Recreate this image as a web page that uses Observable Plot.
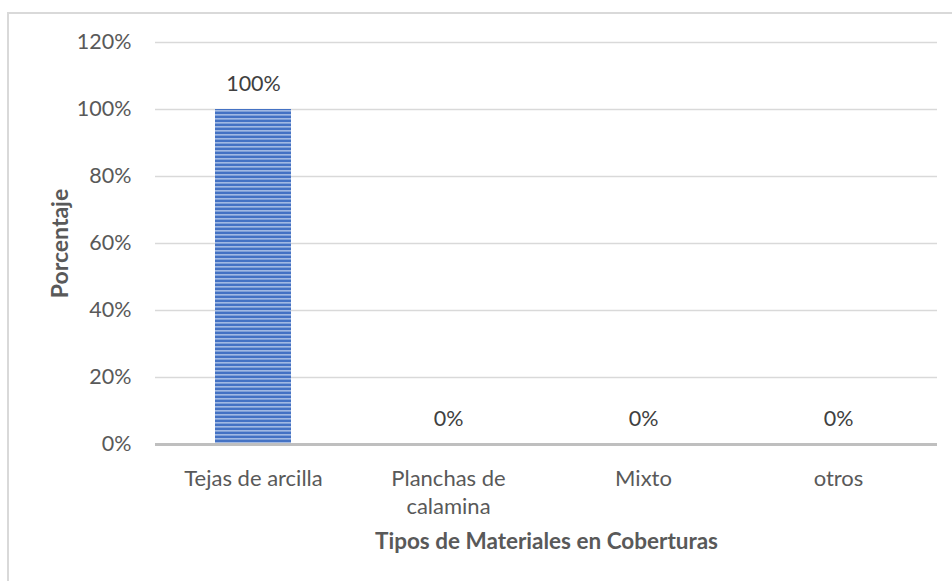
<!DOCTYPE html>
<html>
<head>
<meta charset="utf-8">
<script src="https://cdn.jsdelivr.net/npm/d3@7"></script>
<script src="https://cdn.jsdelivr.net/npm/@observablehq/plot@0.6"></script>
<style>
  html, body { margin: 0; padding: 0; background: #fff; }
  #wrap { position: relative; width: 952px; height: 581px; overflow: hidden; }
  #border { position: absolute; left: 7px; top: 12px; width: 1000px; height: 1000px;
            border-left: 2px solid #d9d9d9; border-top: 2px solid #d9d9d9; box-sizing: border-box; }
  #chart { position: absolute; left: 0; top: 0; }
</style>
</head>
<body>
<div id="wrap"><div id="border"></div><div id="chart"></div></div>
<script>
const categories = ["Tejas de arcilla", "Planchas de calamina", "Mixto", "otros"];
const values = [1.00, 0, 0, 0];
const yTicks = [0, 0.2, 0.4, 0.6, 0.8, 1.0, 1.2];
const xTitle = "Tipos de Materiales en Coberturas";
const yTitle = "Porcentaje";

const data = categories.map((c, i) => ({category: c, value: values[i]}));
const pct = d3.format(".0%");
const font = "Lato, 'Open Sans', sans-serif";
const textColor = "#595959";

const chart = Plot.plot({
  width: 952,
  height: 581,
  marginLeft: 155,
  marginRight: 15,
  marginTop: 42,
  marginBottom: 137,
  style: {fontFamily: font, fontSize: "21px", color: textColor, background: "transparent"},
  x: {domain: categories, paddingInner: 0.61, paddingOuter: 0.305},
  y: {domain: [0, 1.2]},
  marks: [
    Plot.gridY(yTicks.filter(d => d > 0), {stroke: "#d9d9d9", strokeOpacity: 1, strokeWidth: 1.5}),
    Plot.barY(data, {x: "category", y: "value", fill: "url(#stripes)"}),
    Plot.ruleY([0], {stroke: "#bfbfbf", strokeWidth: 3}),
    Plot.axisY({ticks: yTicks, tickFormat: pct, tickSize: 0, tickPadding: 24, label: null,
                fontSize: 21.5, fill: textColor}),
    Plot.axisX({tickSize: 0, tickPadding: 21, label: null, lineWidth: 8.5, lineHeight: 1.28,
                fontSize: 22, fill: textColor}),
    Plot.text(data, {x: "category", y: "value", text: d => pct(d.value), dy: -25,
                     fontSize: 21.5, fill: "#404040"}),
    Plot.text([xTitle], {frameAnchor: "bottom", dy: 104, fontSize: 22.5, fontWeight: "bold", fill: textColor}),
    Plot.text([yTitle], {frameAnchor: "left", textAnchor: "middle", dx: -95, rotate: -90,
                         fontSize: 23, fontWeight: "bold", fill: textColor})
  ]
});

// striped fill pattern for the bar
const ns = "http://www.w3.org/2000/svg";
const defs = document.createElementNS(ns, "defs");
defs.innerHTML = `
  <pattern id="stripes" patternUnits="userSpaceOnUse" width="8" height="4">
    <rect width="8" height="4" fill="#4472c4"/>
    <rect y="2.2" width="8" height="1.3" fill="#b8cbeb"/>
  </pattern>`;
chart.insertBefore(defs, chart.firstChild);

document.getElementById("chart").appendChild(chart);
</script>
</body>
</html>
